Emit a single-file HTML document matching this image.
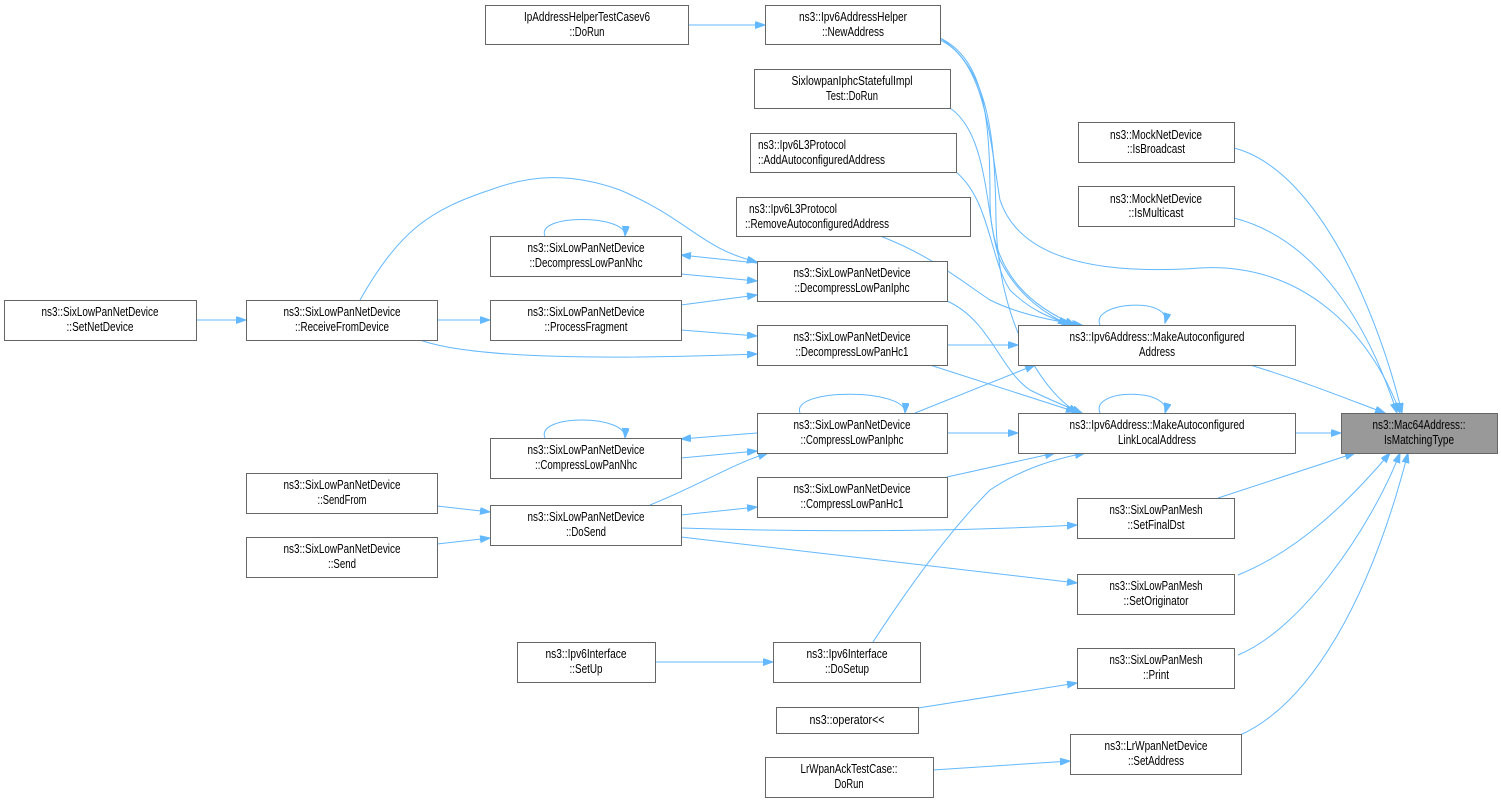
<!DOCTYPE html>
<html><head><meta charset="utf-8"><style>
html,body{margin:0;padding:0;background:#fff;}
svg{display:block;}
text{font-family:"Liberation Sans",sans-serif;font-size:13px;fill:#000;}
.b{fill:#fff;stroke:#666;stroke-width:1;}
.e{fill:none;stroke:#63b8ff;stroke-width:1;}
</style></head><body>
<svg width="1501" height="803" viewBox="0 0 1501 803" xmlns="http://www.w3.org/2000/svg">
<defs><marker id="a" markerUnits="userSpaceOnUse" markerWidth="11" markerHeight="8" refX="10" refY="3.5" orient="auto"><path d="M0,0 L10,3.5 L0,7 z" fill="#63b8ff" stroke="#63b8ff"/></marker></defs>
<g class="e" marker-end="url(#a)">
<path d="M688,25 L765,25"/>
<path d="M940,38 C985,60 990,120 990,200 C990,280 1040,310 1075,325"/>
<path d="M940,38 C990,70 995,140 996,220 C998,320 1040,390 1078,413"/>
<path d="M940,40 C985,60 990,140 1000,200 C1020,260 1100,275 1200,268 C1300,262 1370,330 1400,413"/>
<path d="M950,108 C990,135 985,220 1000,260 C1020,300 1050,315 1068,325"/>
<path d="M956,172 C990,200 990,260 1010,290 C1030,310 1050,318 1072,325"/>
<path d="M880,236 C930,255 960,280 990,300 C1020,315 1060,322 1082,325"/>
<path d="M1100,325 C1090,302 1172,296 1165,323"/>
<path d="M1250,365 C1300,380 1350,400 1385,413"/>
<path d="M1234,148 C1320,170 1380,320 1402,413"/>
<path d="M1234,218 C1320,240 1370,330 1397,413"/>
<path d="M545,236 C535,214 627,214 625,236"/>
<path d="M757,263 L681,255"/>
<path d="M681,274 L757,281"/>
<path d="M681,305 L757,295"/>
<path d="M681,330 L757,336"/>
<path d="M420,340 C470,358 600,360 757,354"/>
<path d="M360,300 C400,230 430,210 490,190 C530,175 570,172 620,190 C690,220 700,248 757,262"/>
<path d="M196,320 L246,320"/>
<path d="M437,320 L490,320"/>
<path d="M947,345 L1018,345"/>
<path d="M947,301 C990,320 1000,370 1030,390 C1050,400 1070,408 1082,413"/>
<path d="M930,365 L1076,412"/>
<path d="M915,413 L1035,365"/>
<path d="M947,433 L1018,433"/>
<path d="M800,413 C790,388 907,388 905,413"/>
<path d="M757,433 L681,439"/>
<path d="M681,458 L757,451"/>
<path d="M545,438 C535,414 627,414 625,438"/>
<path d="M650,505 C700,485 730,465 768,453"/>
<path d="M681,515 L757,507"/>
<path d="M681,528 C800,532 950,532 1077,525"/>
<path d="M681,537 L1077,583"/>
<path d="M437,506 L490,512"/>
<path d="M437,544 L490,538"/>
<path d="M947,477 L1055,453"/>
<path d="M873,642 C920,570 960,520 990,490 C1020,470 1050,460 1085,453"/>
<path d="M655,662 L773,662"/>
<path d="M1100,413 C1090,388 1172,388 1165,413"/>
<path d="M1295,433 L1341,433"/>
<path d="M1218,498 L1355,453"/>
<path d="M1238,575 C1300,550 1350,500 1390,453"/>
<path d="M1238,655 C1300,630 1370,530 1400,453"/>
<path d="M918,708 L1077,683"/>
<path d="M933,770 L1070,761"/>
<path d="M1238,736 C1310,705 1370,600 1408,453"/>
</g>
<g>
<rect class="b" x="485.5" y="5.5" width="203" height="39"/>
<text x="587" y="21" text-anchor="middle" textLength="126" lengthAdjust="spacingAndGlyphs">IpAddressHelperTestCasev6</text>
<text x="587" y="36" text-anchor="middle" textLength="35" lengthAdjust="spacingAndGlyphs">::DoRun</text>

<rect class="b" x="765.5" y="5.5" width="175" height="39"/>
<text x="853" y="21" text-anchor="middle" textLength="108" lengthAdjust="spacingAndGlyphs">ns3::Ipv6AddressHelper</text>
<text x="853" y="36" text-anchor="middle" textLength="62" lengthAdjust="spacingAndGlyphs">::NewAddress</text>

<rect class="b" x="754.5" y="69.5" width="196" height="39"/>
<text x="852" y="85" text-anchor="middle" textLength="121" lengthAdjust="spacingAndGlyphs">SixlowpanIphcStatefulImpl</text>
<text x="852" y="100" text-anchor="middle" textLength="52" lengthAdjust="spacingAndGlyphs">Test::DoRun</text>

<rect class="b" x="750.5" y="133.5" width="206" height="39"/>
<text x="758" y="149" textLength="88" lengthAdjust="spacingAndGlyphs">ns3::Ipv6L3Protocol</text>
<text x="758" y="164" textLength="127" lengthAdjust="spacingAndGlyphs">::AddAutoconfiguredAddress</text>

<rect class="b" x="736.5" y="197.5" width="234" height="39"/>
<text x="749" y="213" textLength="88" lengthAdjust="spacingAndGlyphs">ns3::Ipv6L3Protocol</text>
<text x="745" y="228" textLength="144" lengthAdjust="spacingAndGlyphs">::RemoveAutoconfiguredAddress</text>

<rect class="b" x="1078.5" y="122.5" width="156" height="40"/>
<text x="1156" y="139" text-anchor="middle" textLength="92" lengthAdjust="spacingAndGlyphs">ns3::MockNetDevice</text>
<text x="1156" y="153" text-anchor="middle" textLength="58" lengthAdjust="spacingAndGlyphs">::IsBroadcast</text>

<rect class="b" x="1078.5" y="186.5" width="156" height="40"/>
<text x="1156" y="203" text-anchor="middle" textLength="92" lengthAdjust="spacingAndGlyphs">ns3::MockNetDevice</text>
<text x="1156" y="217" text-anchor="middle" textLength="55" lengthAdjust="spacingAndGlyphs">::IsMulticast</text>

<rect class="b" x="490.5" y="236.5" width="191" height="40"/>
<text x="586" y="252" text-anchor="middle" textLength="117" lengthAdjust="spacingAndGlyphs">ns3::SixLowPanNetDevice</text>
<text x="586" y="267" text-anchor="middle" textLength="113" lengthAdjust="spacingAndGlyphs">::DecompressLowPanNhc</text>

<rect class="b" x="757.5" y="261.5" width="190" height="40"/>
<text x="852" y="277" text-anchor="middle" textLength="117" lengthAdjust="spacingAndGlyphs">ns3::SixLowPanNetDevice</text>
<text x="852" y="292" text-anchor="middle" textLength="115" lengthAdjust="spacingAndGlyphs">::DecompressLowPanIphc</text>

<rect class="b" x="4.5" y="300.5" width="192" height="40"/>
<text x="100" y="316" text-anchor="middle" textLength="117" lengthAdjust="spacingAndGlyphs">ns3::SixLowPanNetDevice</text>
<text x="100" y="331" text-anchor="middle" textLength="67" lengthAdjust="spacingAndGlyphs">::SetNetDevice</text>

<rect class="b" x="246.5" y="300.5" width="191" height="40"/>
<text x="342" y="316" text-anchor="middle" textLength="117" lengthAdjust="spacingAndGlyphs">ns3::SixLowPanNetDevice</text>
<text x="342" y="331" text-anchor="middle" textLength="94" lengthAdjust="spacingAndGlyphs">::ReceiveFromDevice</text>

<rect class="b" x="490.5" y="300.5" width="191" height="40"/>
<text x="586" y="316" text-anchor="middle" textLength="117" lengthAdjust="spacingAndGlyphs">ns3::SixLowPanNetDevice</text>
<text x="586" y="331" text-anchor="middle" textLength="83" lengthAdjust="spacingAndGlyphs">::ProcessFragment</text>

<rect class="b" x="757.5" y="325.5" width="190" height="40"/>
<text x="852" y="341" text-anchor="middle" textLength="117" lengthAdjust="spacingAndGlyphs">ns3::SixLowPanNetDevice</text>
<text x="852" y="356" text-anchor="middle" textLength="113" lengthAdjust="spacingAndGlyphs">::DecompressLowPanHc1</text>

<rect class="b" x="1018.5" y="325.5" width="277" height="40"/>
<text x="1157" y="341" text-anchor="middle" textLength="175" lengthAdjust="spacingAndGlyphs">ns3::Ipv6Address::MakeAutoconfigured</text>
<text x="1157" y="356" text-anchor="middle" textLength="36" lengthAdjust="spacingAndGlyphs">Address</text>

<rect x="1341.5" y="413.5" width="156" height="40" fill="#999" stroke="#666"/>
<text x="1419" y="429" text-anchor="middle" textLength="93" lengthAdjust="spacingAndGlyphs">ns3::Mac64Address::</text>
<text x="1419" y="444" text-anchor="middle" textLength="70" lengthAdjust="spacingAndGlyphs">IsMatchingType</text>

<rect class="b" x="757.5" y="413.5" width="190" height="40"/>
<text x="852" y="429" text-anchor="middle" textLength="117" lengthAdjust="spacingAndGlyphs">ns3::SixLowPanNetDevice</text>
<text x="852" y="444" text-anchor="middle" textLength="103" lengthAdjust="spacingAndGlyphs">::CompressLowPanIphc</text>

<rect class="b" x="1018.5" y="413.5" width="277" height="40"/>
<text x="1157" y="429" text-anchor="middle" textLength="175" lengthAdjust="spacingAndGlyphs">ns3::Ipv6Address::MakeAutoconfigured</text>
<text x="1157" y="444" text-anchor="middle" textLength="78" lengthAdjust="spacingAndGlyphs">LinkLocalAddress</text>

<rect class="b" x="490.5" y="438.5" width="191" height="40"/>
<text x="586" y="454" text-anchor="middle" textLength="117" lengthAdjust="spacingAndGlyphs">ns3::SixLowPanNetDevice</text>
<text x="586" y="469" text-anchor="middle" textLength="102" lengthAdjust="spacingAndGlyphs">::CompressLowPanNhc</text>

<rect class="b" x="246.5" y="473.5" width="191" height="40"/>
<text x="342" y="489" text-anchor="middle" textLength="117" lengthAdjust="spacingAndGlyphs">ns3::SixLowPanNetDevice</text>
<text x="342" y="504" text-anchor="middle" textLength="49" lengthAdjust="spacingAndGlyphs">::SendFrom</text>

<rect class="b" x="490.5" y="505.5" width="191" height="40"/>
<text x="586" y="521" text-anchor="middle" textLength="117" lengthAdjust="spacingAndGlyphs">ns3::SixLowPanNetDevice</text>
<text x="586" y="536" text-anchor="middle" textLength="40" lengthAdjust="spacingAndGlyphs">::DoSend</text>

<rect class="b" x="757.5" y="477.5" width="190" height="40"/>
<text x="852" y="493" text-anchor="middle" textLength="117" lengthAdjust="spacingAndGlyphs">ns3::SixLowPanNetDevice</text>
<text x="852" y="508" text-anchor="middle" textLength="103" lengthAdjust="spacingAndGlyphs">::CompressLowPanHc1</text>

<rect class="b" x="1077.5" y="498.5" width="157" height="40"/>
<text x="1156" y="514" text-anchor="middle" textLength="93" lengthAdjust="spacingAndGlyphs">ns3::SixLowPanMesh</text>
<text x="1156" y="529" text-anchor="middle" textLength="57" lengthAdjust="spacingAndGlyphs">::SetFinalDst</text>

<rect class="b" x="246.5" y="537.5" width="191" height="40"/>
<text x="342" y="553" text-anchor="middle" textLength="117" lengthAdjust="spacingAndGlyphs">ns3::SixLowPanNetDevice</text>
<text x="342" y="568" text-anchor="middle" textLength="28" lengthAdjust="spacingAndGlyphs">::Send</text>

<rect class="b" x="1077.5" y="574.5" width="157" height="40"/>
<text x="1156" y="590" text-anchor="middle" textLength="93" lengthAdjust="spacingAndGlyphs">ns3::SixLowPanMesh</text>
<text x="1156" y="605" text-anchor="middle" textLength="65" lengthAdjust="spacingAndGlyphs">::SetOriginator</text>

<rect class="b" x="517.5" y="642.5" width="138" height="40"/>
<text x="586" y="658" text-anchor="middle" textLength="81" lengthAdjust="spacingAndGlyphs">ns3::Ipv6Interface</text>
<text x="586" y="673" text-anchor="middle" textLength="33" lengthAdjust="spacingAndGlyphs">::SetUp</text>

<rect class="b" x="773.5" y="642.5" width="147" height="40"/>
<text x="847" y="658" text-anchor="middle" textLength="81" lengthAdjust="spacingAndGlyphs">ns3::Ipv6Interface</text>
<text x="847" y="673" text-anchor="middle" textLength="44" lengthAdjust="spacingAndGlyphs">::DoSetup</text>

<rect class="b" x="1077.5" y="648.5" width="157" height="40"/>
<text x="1156" y="664" text-anchor="middle" textLength="93" lengthAdjust="spacingAndGlyphs">ns3::SixLowPanMesh</text>
<text x="1156" y="679" text-anchor="middle" textLength="26" lengthAdjust="spacingAndGlyphs">::Print</text>

<rect class="b" x="776.5" y="707.5" width="142" height="26"/>
<text x="847" y="724" text-anchor="middle" textLength="75" lengthAdjust="spacingAndGlyphs">ns3::operator&lt;&lt;</text>

<rect class="b" x="1070.5" y="734.5" width="171" height="40"/>
<text x="1156" y="750" text-anchor="middle" textLength="103" lengthAdjust="spacingAndGlyphs">ns3::LrWpanNetDevice</text>
<text x="1156" y="765" text-anchor="middle" textLength="56" lengthAdjust="spacingAndGlyphs">::SetAddress</text>

<rect class="b" x="765.5" y="757.5" width="168" height="40"/>
<text x="849" y="773" text-anchor="middle" textLength="97" lengthAdjust="spacingAndGlyphs">LrWpanAckTestCase::</text>
<text x="849" y="788" text-anchor="middle" textLength="29" lengthAdjust="spacingAndGlyphs">DoRun</text>
</g>
</svg>
</body></html>
